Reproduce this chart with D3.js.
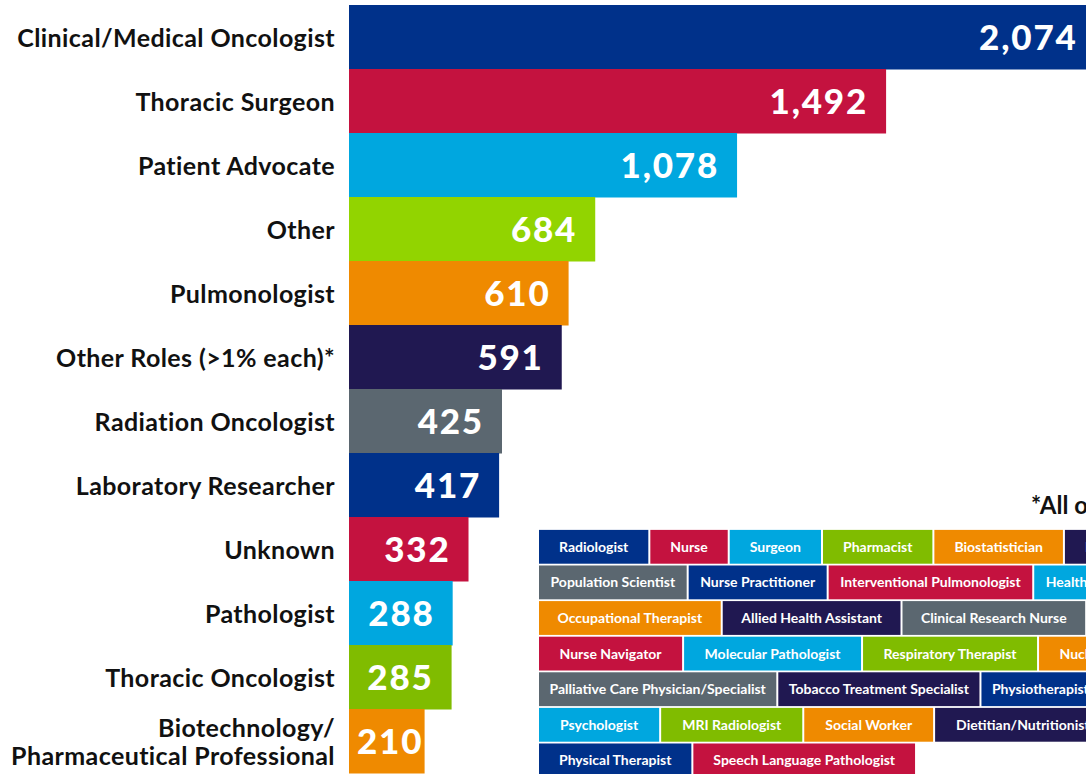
<!DOCTYPE html>
<html>
<head>
<meta charset="utf-8">
<script src="https://cdn.jsdelivr.net/npm/d3@7"></script>
<style>
  html, body { margin: 0; padding: 0; background: #fff; overflow: hidden; }
  svg { display: block; }
</style>
</head>
<body>
<svg id="chart" width="1086" height="774"></svg>
<script>
// ---------- DATA ----------
const categories = [
  "Clinical/Medical Oncologist",
  "Thoracic Surgeon",
  "Patient Advocate",
  "Other",
  "Pulmonologist",
  "Other Roles (>1% each)*",
  "Radiation Oncologist",
  "Laboratory Researcher",
  "Unknown",
  "Pathologist",
  "Thoracic Oncologist",
  "Biotechnology/\nPharmaceutical Professional"
];
const values = [2074, 1492, 1078, 684, 610, 591, 425, 417, 332, 288, 285, 210];
const barColorKeys = ["navy", "crimson", "blue", "lime", "orange", "purple", "gray", "navy", "crimson", "blue", "green", "orange"];

const footnote = "*All other roles (<1% each)";

const tagRow1 = ["Radiologist", "Nurse", "Surgeon", "Pharmacist", "Biostatistician", "Epidemiologist"];
const tagRow2 = ["Population Scientist", "Nurse Practitioner", "Interventional Pulmonologist", "Health Economist"];
const tagRow3 = ["Occupational Therapist", "Allied Health Assistant", "Clinical Research Nurse", "Medical Physicist"];
const tagRow4 = ["Nurse Navigator", "Molecular Pathologist", "Respiratory Therapist", "Nuclear Medicine Physician"];
const tagRow5 = ["Palliative Care Physician/Specialist", "Tobacco Treatment Specialist", "Physiotherapist"];
const tagRow6 = ["Psychologist", "MRI Radiologist", "Social Worker", "Dietitian/Nutritionist"];
const tagRow7 = ["Physical Therapist", "Speech Language Pathologist"];

const tagColorRow1 = ["navy", "crimson", "blue", "green", "orange", "purple"];
const tagColorRow2 = ["gray", "navy", "crimson", "blue"];
const tagColorRow3 = ["orange", "purple", "gray", "navy"];
const tagColorRow4 = ["crimson", "blue", "green", "orange"];
const tagColorRow5 = ["gray", "purple", "navy"];
const tagColorRow6 = ["blue", "green", "orange", "purple"];
const tagColorRow7 = ["navy", "crimson"];

// ---------- STYLE / LAYOUT ----------
const palette = {
  navy: "#00318a",
  crimson: "#c4123f",
  blue: "#00a7df",
  lime: "#92d400",
  green: "#80bc00",
  orange: "#ef8a00",
  purple: "#201851",
  gray: "#5b6770"
};
const tagRowPad = [20, 11.5, 18.5, 20.5, 10.5, 21, 20];

const svg = d3.select("#chart");

const barLeft = 349;
const x = d3.scaleLinear().domain([0, 2074]).range([barLeft, barLeft + 746.6]);
const y = d3.scaleBand().domain(d3.range(categories.length)).range([5, 5 + 64 * categories.length]).padding(0);

const data = categories.map((c, i) => ({ cat: c, v: values[i], color: palette[barColorKeys[i]], i }));

// bars
svg.append("g").selectAll("rect")
  .data(data)
  .join("rect")
  .attr("x", x(0))
  .attr("y", d => y(d.i))
  .attr("width", d => x(d.v) - x(0))
  .attr("height", y.bandwidth() + 0.5)
  .attr("fill", d => d.color);

// value labels
const fmt = d3.format(",");
const vl = svg.append("g").selectAll("text")
  .data(data)
  .join("text")
  .attr("y", d => y(d.i) + y.bandwidth() / 2)
  .attr("dy", "0.38em")
  .attr("text-anchor", "end")
  .attr("fill", "#fff")
  .style("font-family", "Lato, 'Open Sans', sans-serif")
  .style("font-weight", 900)
  .style("font-size", "35px")
  .style("letter-spacing", "1.8px")
  .text(d => fmt(d.v));
vl.each(function(d) {
  const w = this.getComputedTextLength();
  let end = x(d.v) - 18;
  if (end - w < x(0) + 8) end = x(0) + 8 + w;
  d3.select(this).attr("x", end);
});

// category labels
const cl = svg.append("g").selectAll("text")
  .data(data)
  .join("text")
  .attr("x", 335)
  .attr("y", d => y(d.i) + y.bandwidth() / 2)
  .attr("text-anchor", "end")
  .attr("fill", "#111")
  .style("font-family", "Lato, 'Open Sans', sans-serif")
  .style("font-weight", 700)
  .style("font-size", "25px")
  .style("letter-spacing", "0.4px");
cl.each(function(d) {
  const lines = d.cat.split("\n");
  const t = d3.select(this);
  const lh = 28;
  const start = -(lines.length - 1) * lh / 2;
  lines.forEach((ln, k) => {
    t.append("tspan")
      .attr("x", 335)
      .attr("dy", k === 0 ? (start + 10) : lh)
      .text(ln);
  });
});

// footnote
svg.append("text")
  .attr("x", 1031)
  .attr("y", 514)
  .attr("fill", "#111")
  .style("font-family", "Lato, 'Open Sans', sans-serif")
  .style("font-weight", 700)
  .style("font-size", "24px")
  .text(footnote);

// tags
const tagRows = [tagRow1, tagRow2, tagRow3, tagRow4, tagRow5, tagRow6, tagRow7];
const tagColors = [tagColorRow1, tagColorRow2, tagColorRow3, tagColorRow4, tagColorRow5, tagColorRow6, tagColorRow7];
const ry = d3.scaleBand().domain(d3.range(tagRows.length)).range([529, 529 + 35.6 * tagRows.length]).paddingInner(0.05).paddingOuter(0.025);
const tagLeft = 539, gap = 2;

const tagG = svg.append("g");
tagRows.forEach((row, r) => {
  let cx = tagLeft;
  const pad = tagRowPad[r];
  row.forEach((lbl, k) => {
    const g = tagG.append("g");
    const rect = g.append("rect");
    const txt = g.append("text")
      .attr("fill", "#fff")
      .attr("text-anchor", "middle")
      .style("font-family", "Lato, 'Open Sans', sans-serif")
      .style("font-weight", 700)
      .style("font-size", "14px")
      .text(lbl);
    const tw = txt.node().getComputedTextLength();
    const bw = tw + 2 * pad;
    rect.attr("x", cx).attr("y", ry(r)).attr("width", bw).attr("height", ry.bandwidth())
      .attr("fill", palette[tagColors[r][k]]);
    txt.attr("x", cx + bw / 2).attr("y", ry(r) + ry.bandwidth() / 2).attr("dy", "0.36em");
    cx += bw + gap;
  });
});
</script>
</body>
</html>
